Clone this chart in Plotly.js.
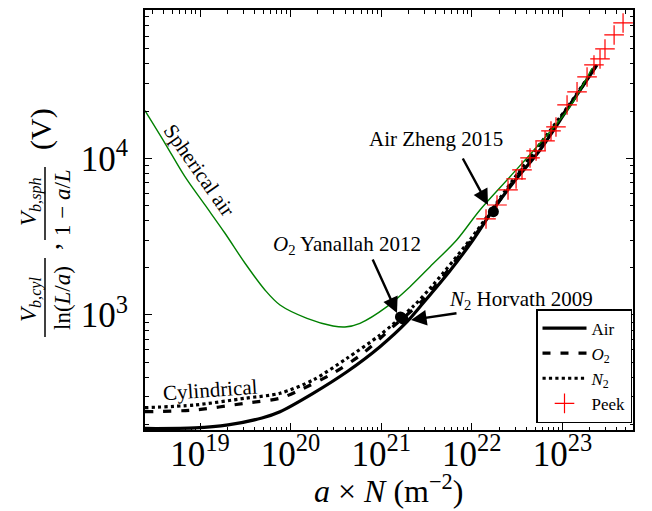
<!DOCTYPE html>
<html>
<head>
<meta charset="utf-8">
<script src="https://cdn.plot.ly/plotly-3.0.1.min.js"></script>
<style>html,body{margin:0;padding:0;background:#fff;}#chart{width:652px;height:511px;}</style>
</head>
<body>
<div id="chart"></div>
<script>
// ---- data ----
const airX = [2.47e18, 8.81e18, 2.04e19, 4.83e19, 7.64e19, 1.77e20, 4.19e20, 9.70e20, 1.93e21, 2.89e21, 5.6e21, 1.03e22, 1.71e22, 2.85e22, 5.66e22, 1.12e23, 2.41e23];
const airY = [188.7, 190.1, 198.7, 220.2, 241.5, 316.5, 434.6, 627.8, 906.4, 1188, 1880, 3010, 4679, 6958, 11300, 20340, 39400];

const o2X = [2.47e18, 8.81e18, 3.14e19, 7.64e19, 1.27e20, 2.94e20, 6.30e20, 1.35e21, 2.89e21, 1.03e22, 2.85e22, 1.12e23, 2.41e23];
const o2Y = [241.5, 247.6, 273.3, 294.1, 332.2, 424.6, 569.6, 842, 1246, 3100, 7112, 20640, 39690];

const n2X = [2.47e18, 8.81e18, 3.14e19, 7.64e19, 1.77e20, 4.19e20, 9.70e20, 2.24e21, 3.73e21, 1.03e22, 2.85e22, 1.12e23, 2.41e23];
const n2Y = [256.1, 266.5, 294.1, 316.5, 384.8, 529.3, 745.6, 1130, 1554, 3193, 7270, 20940, 39990];

const sphX = [2.47e18, 4.11e18, 6.82e18, 1.135e19, 1.888e19, 3.14e19, 5.21e19, 7.64e19, 1.517e20, 2.94e20, 3.98e20, 5.83e20, 1.159e21, 2.08e21, 3.46e21, 6.81e21, 1.23e22, 2.64e22, 5.66e22, 1.213e23, 2.12e23];
const sphY = [20130, 12460, 7630, 5035, 3322, 2138, 1444, 1158, 952, 851, 838, 885, 1130, 1516, 2033, 3010, 4679, 7630, 12460, 21350, 37520];

const peekX = [1.435e22, 1.897e22, 2.51e22, 3.08e22, 3.58e22, 4.39e22, 5.12e22, 6.43e22, 7.48e22, 8.49e22, 1.125e23, 1.45e23, 1.87e23, 2.23e23, 2.60e23, 2.95e23, 3.72e23, 4.67e23];
const peekY = [4099, 5033, 6277, 7377, 8420, 10045, 11130, 12900, 14940, 15840, 21880, 26500, 33020, 39400, 43020, 49840, 61200, 73030];

const expNames = ["Air Zheng 2015", "O2 Yanallah 2012", "N2 Horvath 2009"];
const expX = [1.73e22, 1.63e21, 1.74e21];
const expY = [4563, 971, 943];

const xTickVals = [1e19, 1e20, 1e21, 1e22, 1e23];
const xTickText = ["10<sup>19</sup>", "10<sup>20</sup>", "10<sup>21</sup>", "10<sup>22</sup>", "10<sup>23</sup>"];
const yTickVals = [1e3, 1e4];
const yTickText = ["10<sup>3</sup>", "10<sup>4</sup>"];

// ---- layout helpers (plot area in page pixels) ----
const PL = 145, PR = 633, PT = 10, PB = 430;
const fx = p => (p - PL) / (PR - PL);
const fy = p => (PB - p) / (PB - PT);
const SERIF = "Liberation Serif, Times New Roman, serif";
const XR = [18.393, 23.779], YR = [2.266, 4.946];

const traces = [
  {x: airX, y: airY, name: "Air", mode: "lines", legendgroup: "a",
   line: {color: "black", width: 3.2, shape: "spline", smoothing: 0.8}},
  {x: o2X, y: o2Y, name: "<i>O</i><sub>2</sub>", mode: "lines", legendgroup: "b",
   line: {color: "black", width: 3.2, dash: "8px,10px", shape: "spline", smoothing: 0.8}},
  {x: n2X, y: n2Y, name: "<i>N</i><sub>2</sub>", mode: "lines", legendgroup: "c",
   line: {color: "black", width: 3.2, dash: "dot", shape: "spline", smoothing: 0.8}},
  {x: sphX, y: sphY, name: "Spherical air", mode: "lines", showlegend: false,
   line: {color: "#008000", width: 1.4, shape: "spline", smoothing: 0.9}},
  {x: peekX, y: peekY, name: "Peek", mode: "markers", legendgroup: "d",
   marker: {symbol: "cross-thin", size: 14, color: "red", line: {color: "red", width: 1.2}}},
  {x: expX, y: expY, text: expNames, mode: "markers", showlegend: false, hoverinfo: "text",
   xaxis: "x2", yaxis: "y2",
   marker: {symbol: "circle", size: 11, color: "black"}}
];

const axisCommon = {
  type: "log", showline: true, linewidth: 2, linecolor: "black",
  ticks: "inside", ticklen: 7, tickwidth: 1, tickcolor: "black",
  showgrid: false, zeroline: false,
  tickfont: {family: SERIF, size: 35, color: "black"},
  minor: {ticks: "inside", ticklen: 3.5, tickwidth: 1, tickcolor: "black", dtick: "D1", showgrid: false}
};

const annotations = [
  {text: "Spherical air", x: fx(199), y: fy(170), textangle: 55},
  {text: "Cylindrical", x: fx(210), y: fy(390), textangle: -4},
  {text: "Air Zheng 2015", x: fx(436), y: fy(139)},
  {text: "<i>O</i><sub>2</sub> Yanallah 2012", x: fx(347), y: fy(245)},
  {text: "<i>N</i><sub>2</sub> Horvath 2009", x: fx(521), y: fy(300)}
].map(a => Object.assign({xref: "paper", yref: "paper", showarrow: false, xanchor: "center", yanchor: "middle",
  font: {family: SERIF, size: 21, color: "black"}}, a));

// arrows
[[488, 205, 462, 157], [397, 313, 372, 258], [411, 320, 458, 313]].forEach(([hx, hy, tx, ty]) => {
  annotations.push({xref: "paper", yref: "paper", x: fx(hx), y: fy(hy), ax: tx - hx, ay: ty - hy,
    text: "", showarrow: true, arrowhead: 2, arrowsize: 1.3, arrowwidth: 2.4, arrowcolor: "black", standoff: 0});
});

// y-axis title built from pieces
const ytitle = [
  {text: "(V)", px: 41, py: 129, size: 30},
  {text: "<i>V</i><sub><i>b,sph</i></sub>", px: 30, py: 202, size: 23},
  {text: "1 − <i>a</i>/<i>L</i>", px: 62, py: 203, size: 23},
  {text: ",", px: 49, py: 247, size: 28},
  {text: "<i>V</i><sub><i>b,cyl</i></sub>", px: 30, py: 300, size: 23},
  {text: "ln(<i>L</i>/<i>a</i>)", px: 62, py: 298, size: 23}
];
ytitle.forEach(t => annotations.push({xref: "paper", yref: "paper", x: fx(t.px), y: fy(t.py), text: t.text,
  textangle: -90, showarrow: false, xanchor: "center", yanchor: "middle", font: {family: SERIF, size: t.size, color: "black"}}));

// x-axis title
annotations.push({xref: "paper", yref: "paper", x: fx(388), y: fy(489), showarrow: false, xanchor: "center", yanchor: "middle",
  text: "<i>a</i> × <i>N</i> (m<sup>−2</sup>)", font: {family: SERIF, size: 32, color: "black"}});

const shapes = [[167, 240], [258, 337]].map(([a, b]) => ({type: "line", xref: "paper", yref: "paper",
  x0: fx(45), x1: fx(45), y0: fy(a), y1: fy(b), line: {color: "black", width: 1.5}}));

const layout = {
  width: 652, height: 511,
  margin: {l: PL, r: 652 - PR, t: PT, b: 511 - PB},
  paper_bgcolor: "white", plot_bgcolor: "white",
  xaxis: Object.assign({}, axisCommon, {range: XR, tickvals: xTickVals, ticktext: xTickText, mirror: true, ticklabelstandoff: -8}),
  yaxis: Object.assign({}, axisCommon, {range: YR, tickvals: yTickVals, ticktext: yTickText, mirror: true, ticklabelstandoff: 8}),
  xaxis2: Object.assign({}, axisCommon, {range: XR, tickvals: xTickVals, overlaying: "x", side: "top", anchor: "y2", showticklabels: false}),
  yaxis2: Object.assign({}, axisCommon, {range: YR, tickvals: yTickVals, overlaying: "y", side: "right", anchor: "x2", showticklabels: false}),
  legend: {x: fx(632), xanchor: "right", y: fy(423), yanchor: "bottom", bgcolor: "white",
    bordercolor: "black", borderwidth: 1.5, font: {family: SERIF, size: 17, color: "black"},
    tracegroupgap: 0, itemwidth: 44},
  annotations: annotations,
  shapes: shapes,
  showlegend: true
};

Plotly.newPlot("chart", traces, layout, {displayModeBar: false, staticPlot: true});
</script>
</body>
</html>
